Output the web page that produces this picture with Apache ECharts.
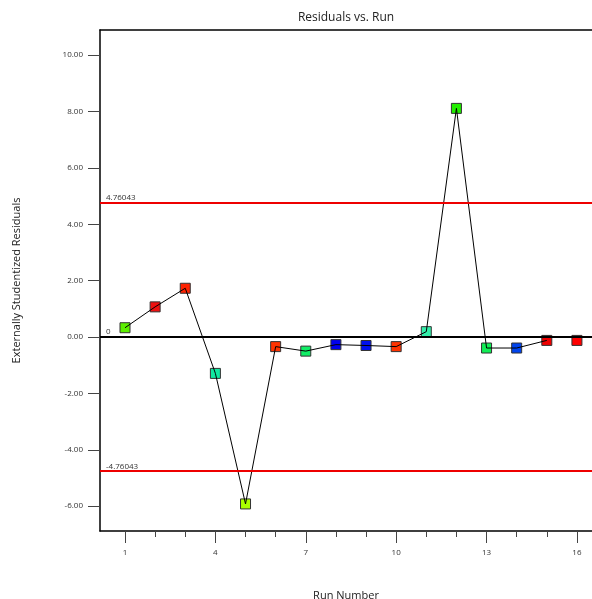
<!DOCTYPE html>
<html>
<head>
<meta charset="utf-8">
<script src="https://cdn.jsdelivr.net/npm/echarts@6/dist/echarts.min.js"></script>
<style>html,body{margin:0;padding:0;background:#fff}#c{width:592px;height:599px}</style>
</head>
<body>
<div id="c"></div>
<script>
var runs = [1,2,3,4,5,6,7,8,9,10,11,12,13,14,15,16];
var residuals = [0.33,1.07,1.73,-1.29,-5.92,-0.34,-0.50,-0.27,-0.30,-0.34,0.19,8.11,-0.39,-0.39,-0.12,-0.12];
var pointColors = ['#5cf000','#ee1111','#ff2200','#11e8a0','#aaff00','#ff3300','#11ee66','#0000ee','#0011ee','#ff3300','#33eeaa','#22ee00','#11ee55','#0044ee','#ee0000','#ff0000'];
var yTicks = [-6,-4,-2,0,2,4,6,8,10];
var xMajorTicks = [1,4,7,10,13,16];
var limitUpper = 4.76043;
var limitLower = -4.76043;

var FONT = '"Open Sans", "Noto Sans", sans-serif';
var pts = runs.map(function(r,i){return {value:[r,residuals[i]], itemStyle:{color:pointColors[i]}};});
var linePts = runs.slice(0,15).map(function(r,i){return [r,residuals[i]];});

var chart = echarts.init(document.getElementById('c'));
chart.setOption({
  animation:false,
  textStyle:{fontFamily:FONT},
  graphic:[{type:'text',x:346,y:18,style:{text:'Residuals vs. Run',font:'12px '+FONT,fill:'#222',textAlign:'center',textVerticalAlign:'middle'}}],
  grid:{left:100,right:0,top:30,bottom:68,containLabel:false,outerBoundsMode:'none'},
  xAxis:[{
    type:'value',min:0.17,max:16.5,position:'bottom',
    name:'Run Number',nameLocation:'middle',nameGap:59,
    nameTextStyle:{fontSize:11,color:'#222',fontFamily:FONT},
    splitLine:{show:false},
    axisLine:{show:true,onZero:false,lineStyle:{color:'#000',width:1.5}},
    axisTick:{show:true,length:6,customValues:runs,lineStyle:{color:'#444'}},
    axisLabel:{customValues:xMajorTicks,fontSize:8,color:'#333',margin:18,fontFamily:FONT}
  },{
    type:'value',min:0.17,max:16.5,position:'bottom',
    splitLine:{show:false},
    axisLine:{show:false,onZero:false},
    axisTick:{show:true,length:12,customValues:xMajorTicks,lineStyle:{color:'#444'}},
    axisLabel:{show:false}
  },{
    type:'value',min:0.17,max:16.5,position:'top',
    splitLine:{show:false},
    axisLine:{show:true,onZero:false,lineStyle:{color:'#000',width:1.5}},
    axisTick:{show:false},axisLabel:{show:false}
  }],
  yAxis:{
    type:'value',min:-6.88,max:10.89,
    name:'Externally Studentized Residuals',nameLocation:'middle',nameGap:78,nameRotate:90,
    nameTextStyle:{fontSize:11,color:'#222',fontFamily:FONT},
    splitLine:{show:false},
    axisLine:{show:true,onZero:false,lineStyle:{color:'#000',width:1.5}},
    axisTick:{show:true,length:12,customValues:yTicks,lineStyle:{color:'#444'}},
    axisLabel:{customValues:yTicks,fontSize:8,color:'#333',margin:17,fontFamily:FONT,
      formatter:function(v){return v.toFixed(2);}}
  },
  series:[{
    type:'scatter',data:pts,symbol:'rect',symbolSize:10,z:3,
    itemStyle:{borderColor:'#333',borderWidth:1,opacity:1},
    markLine:{
      silent:true,symbol:'none',animation:false,
      data:[
        {yAxis:limitUpper,lineStyle:{color:'#ee0000',width:2,type:'solid'},label:{formatter:String(limitUpper)}},
        {yAxis:limitLower,lineStyle:{color:'#ee0000',width:2,type:'solid'},label:{formatter:String(limitLower)}},
        {yAxis:0,lineStyle:{color:'#000',width:2,type:'solid'},label:{formatter:'0'}}
      ],
      label:{position:'insideStartTop',fontSize:8,color:'#333',distance:[6,1],fontFamily:FONT}
    }
  },{
    type:'line',data:linePts,symbol:'none',z:4,
    lineStyle:{color:'#000',width:1}
  }]
});
</script>
</body>
</html>
